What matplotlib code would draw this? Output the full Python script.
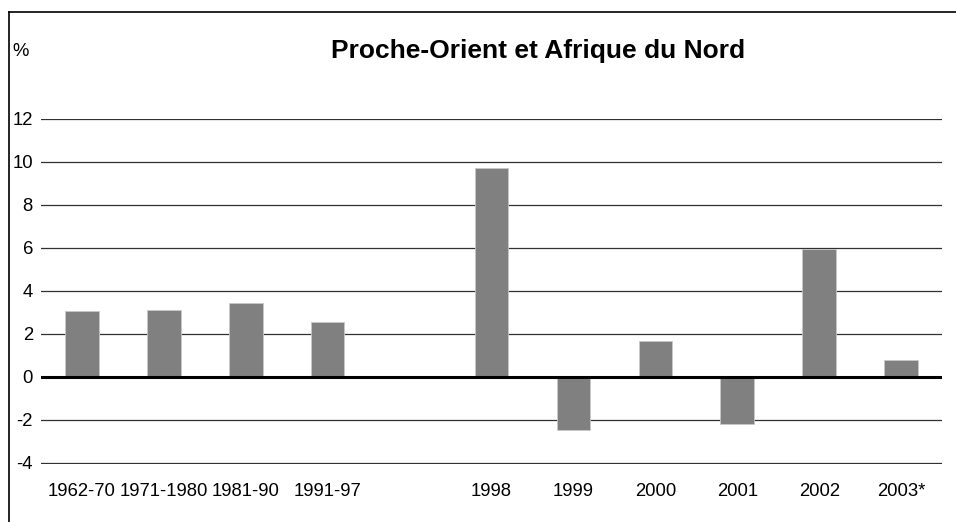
import numpy as np
import matplotlib.pyplot as plt
from matplotlib.lines import Line2D

plt.rcParams['font.family'] = ['Liberation Sans', 'DejaVu Sans']

# periods (the empty slot is the gap between the averages and the years)
periods = ["1962-70", "1971-1980", "1981-90", "1991-97", "",
           "1998", "1999", "2000", "2001", "2002", "2003*"]
growth = [3.07, 3.13, 3.43, 2.55, np.nan,
          9.72, -2.48, 1.65, -2.18, 5.96, 0.77]
y_ticks = [-4, -2, 0, 2, 4, 6, 8, 10, 12]

fig = plt.figure(figsize=(9.56, 5.22), dpi=100)
ax = fig.add_axes([0.0429, 0.1111, 0.9425, 0.661])

x = np.arange(len(periods))
ax.bar(x, growth, width=0.41, color="#808080", edgecolor="#c8c8c8",
       linewidth=0.6, zorder=3)

ax.set_xlim(-0.5, len(periods) - 0.5)
ax.set_ylim(-4.05, 12)
ax.set_yticks(y_ticks)
ax.set_yticklabels([str(t) for t in y_ticks])
ax.set_xticks(x)
ax.set_xticklabels(periods)
ax.tick_params(axis="both", length=0, labelsize=13.3, colors="black")
ax.tick_params(axis="y", pad=5.8)
ax.tick_params(axis="x", pad=14)

for t in y_ticks:
    if t == 0:
        continue
    ax.axhline(t, color="#303030", linewidth=0.9, zorder=1)
ax.axhline(0, color="black", linewidth=2.2, zorder=4)

for s in ax.spines.values():
    s.set_visible(False)

fig.text(0.563, 0.902, "Proche-Orient et Afrique du Nord", fontsize=19,
         fontweight="bold", ha="center", va="center")
fig.text(0.013, 0.902, "%", fontsize=13.3, ha="left", va="center")

# outer frame: only top and left edges are visible
fig.add_artist(Line2D([9 / 956, 1], [1 - 12 / 522, 1 - 12 / 522],
                      transform=fig.transFigure, color="black", linewidth=1.2))
fig.add_artist(Line2D([9 / 956, 9 / 956], [0, 1 - 12 / 522],
                      transform=fig.transFigure, color="black", linewidth=1.2))

fig.savefig("out.png", dpi=100)
